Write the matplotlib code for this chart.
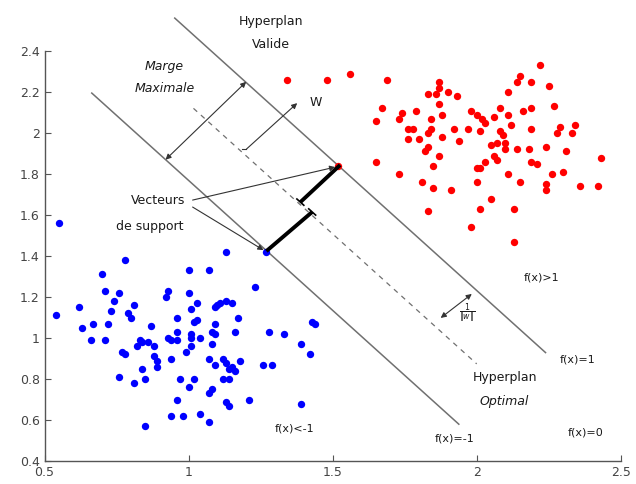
import matplotlib
matplotlib.use("Agg")
import matplotlib.pyplot as plt
import numpy as np

# ---- data ----
red_x = [1.34, 1.48, 1.56, 1.69, 1.67, 1.65, 1.74, 1.73, 1.79, 1.83, 1.87, 1.87, 1.86, 1.90, 1.93,
         1.87, 1.88, 1.84, 1.84, 1.83, 1.76, 1.78, 1.76, 1.80, 1.83, 1.82, 1.87, 1.88, 1.92, 1.94,
         1.97, 2.01, 1.98, 2.00, 2.02, 2.03, 2.06, 2.08, 2.11, 2.12, 2.08, 2.09, 2.05, 2.07, 2.10,
         2.10, 2.14, 2.15, 2.19, 2.22, 2.25, 2.11, 2.16, 2.19, 2.27, 2.19, 2.29, 2.28, 2.33, 2.34,
         2.14, 2.18, 2.24, 2.31, 2.06, 2.07, 2.03, 2.00, 2.01, 2.19, 2.21, 2.43, 1.65, 1.85, 1.73,
         1.81, 1.85, 1.91, 2.00, 2.05, 2.11, 2.15, 2.26, 2.30, 2.24, 2.24, 2.36, 2.42, 1.83, 2.01,
         2.13, 1.98, 2.13, 1.52]
red_y = [2.26, 2.26, 2.29, 2.26, 2.12, 2.06, 2.10, 2.07, 2.11, 2.19, 2.25, 2.22, 2.19, 2.20, 2.18,
         2.14, 2.09, 2.07, 2.02, 2.00, 2.02, 2.02, 1.97, 1.97, 1.93, 1.91, 1.89, 1.98, 2.02, 1.96,
         2.02, 2.01, 2.11, 2.09, 2.07, 2.05, 2.08, 2.12, 2.09, 2.04, 2.01, 1.99, 1.94, 1.95, 1.95,
         1.92, 2.25, 2.28, 2.25, 2.33, 2.23, 2.20, 2.11, 2.12, 2.13, 2.02, 2.03, 2.00, 2.00, 2.04,
         1.92, 1.92, 1.93, 1.91, 1.89, 1.87, 1.86, 1.83, 1.83, 1.86, 1.85, 1.88, 1.86, 1.84, 1.80,
         1.76, 1.73, 1.72, 1.76, 1.68, 1.80, 1.76, 1.80, 1.81, 1.75, 1.72, 1.74, 1.74, 1.62, 1.63,
         1.63, 1.54, 1.47, 1.84]

blue_x = [0.55, 0.54, 0.62, 0.63, 0.67, 0.66, 0.71, 0.70, 0.71, 0.78, 0.76, 0.74, 0.73, 0.72,
          0.79, 0.80, 0.81, 0.76, 0.77, 0.78, 0.81, 0.84, 0.85, 0.85, 0.83, 0.82, 0.84, 0.86,
          0.88, 0.87, 0.88, 0.89, 0.89, 0.93, 0.92, 0.96, 0.93, 0.94, 0.96, 0.96, 0.94, 0.99,
          0.97, 0.96, 0.94, 0.98, 1.00, 1.00, 1.01, 1.01, 1.01, 1.01, 1.03, 1.02, 1.03, 1.02,
          1.00, 1.04, 1.07, 1.09, 1.08, 1.09, 1.08, 1.07, 1.09, 1.08, 1.07, 1.04, 1.07, 1.09,
          1.10, 1.11, 1.13, 1.15, 1.13, 1.12, 1.13, 1.14, 1.16, 1.15, 1.12, 1.14, 1.13, 1.14,
          1.16, 1.17, 1.18, 1.21, 1.23, 1.26, 1.28, 1.29, 1.33, 1.39, 1.42, 1.39, 1.43, 1.44,
          1.27]
blue_y = [1.56, 1.11, 1.15, 1.05, 1.07, 0.99, 0.99, 1.31, 1.23, 1.38, 1.22, 1.18, 1.13, 1.07,
          1.12, 1.10, 1.16, 0.81, 0.93, 0.92, 0.78, 0.85, 0.80, 0.57, 0.99, 0.96, 0.98, 0.98,
          0.96, 1.06, 0.91, 0.89, 0.86, 1.23, 1.20, 1.10, 1.00, 0.99, 1.03, 0.99, 0.90, 0.93,
          0.80, 0.70, 0.62, 0.62, 1.33, 1.22, 1.02, 1.00, 0.96, 1.14, 1.17, 1.08, 1.09, 0.80,
          0.76, 1.00, 1.33, 1.07, 1.03, 1.02, 0.97, 0.90, 0.87, 0.75, 0.73, 0.63, 0.59, 1.15,
          1.16, 1.17, 1.18, 1.17, 1.42, 0.90, 0.88, 0.85, 0.84, 0.86, 0.80, 0.80, 0.69, 0.67,
          1.03, 1.10, 0.89, 0.70, 1.25, 0.87, 1.03, 0.87, 1.02, 0.97, 0.92, 0.68, 1.08, 1.07,
          1.42]

# hyperplanes: y = slope * x + intercept, drawn between x-limits
slope = -1.268
intercept_pos = 3.768   # f(x) = 1
intercept_zero = 3.41   # f(x) = 0 (dashed)
intercept_neg = 3.037   # f(x) = -1
xrange_pos = [0.952, 2.239]
xrange_zero = [1.017, 2.0]
xrange_neg = [0.664, 1.938]

# support-vector segments (to optimal hyperplane)
seg_red = ([1.388, 1.526], [1.663, 1.844])
seg_blue = ([1.270, 1.429], [1.424, 1.615])
tick_points = [(1.388, 1.663), (1.429, 1.615)]

fig = plt.figure(figsize=(6.36, 4.84), dpi=100)
ax = fig.add_axes([0.070, 0.0475, 0.906, 0.847])
ax.set_xlim(0.5, 2.5)
ax.set_ylim(0.4, 2.4)

linecol = '#707070'
def hline(xr, b, **kw):
    xs = np.array(xr)
    ax.plot(xs, slope * xs + b, clip_on=False, **kw)

hline(xrange_pos, intercept_pos, color=linecol, lw=1.1)
hline(xrange_neg, intercept_neg, color=linecol, lw=1.1)
hline(xrange_zero, intercept_zero, color=linecol, lw=0.9, ls=(0, (4, 4)))

ax.plot(red_x, red_y, 'o', color='red', ms=5.3, mec='none', clip_on=False, zorder=3)
ax.plot(blue_x, blue_y, 'o', color='blue', ms=5.3, mec='none', clip_on=False, zorder=3)

ax.plot(*seg_red, color='black', lw=2.8, solid_capstyle='butt', zorder=4)
ax.plot(*seg_blue, color='black', lw=2.8, solid_capstyle='butt', zorder=4)
# small end ticks along hyperplane direction
for (x0, y0) in tick_points:
    d = 0.012
    ax.plot([x0 - d, x0 + d], [y0 - slope * d, y0 + slope * d], color='black', lw=1.2, zorder=4)

acol = '#333333'
def arrow(p0, p1, style):
    ax.annotate('', xy=p1, xytext=p0, annotation_clip=False,
                arrowprops=dict(arrowstyle=style, color=acol, lw=0.8,
                                mutation_scale=8, shrinkA=0, shrinkB=0))

arrow((0.92, 1.87), (1.20, 2.25), '<|-|>')      # marge maximale
arrow((1.201, 1.922), (1.377, 2.146), '-|>')    # W
arrow((1.875, 1.098), (1.983, 1.215), '<|-|>')  # 1/||w||
arrow((1.014, 1.673), (1.509, 1.834), '-|>')    # vecteurs -> red
arrow((1.014, 1.639), (1.26, 1.429), '-|>')     # vecteurs -> blue
# small base tick of W
ax.plot([1.185, 1.201], [1.922, 1.922], color=acol, lw=0.8)

tc = '#1a1a1a'
def txt(x, y, s, fs=9, **kw):
    ax.text(x, y, s, ha='center', va='center', fontsize=fs, color=tc, clip_on=False, **kw)

txt(1.287, 2.546, 'Hyperplan')
txt(1.287, 2.43, 'Valide')
txt(0.917, 2.327, 'Marge', style='italic')
txt(0.917, 2.215, 'Maximale', style='italic')
txt(1.44, 2.15, 'W')
txt(0.893, 1.673, 'Vecteurs')
txt(0.865, 1.546, 'de support')
txt(2.225, 1.293, 'f(x)>1', fs=8)
txt(2.349, 0.893, 'f(x)=1', fs=8)
txt(2.097, 0.805, 'Hyperplan')
txt(2.097, 0.688, 'Optimal', style='italic')
txt(1.924, 0.512, 'f(x)=-1', fs=8)
txt(2.377, 0.537, 'f(x)=0', fs=8)
txt(1.367, 0.561, 'f(x)<-1', fs=8)
txt(1.965, 1.12, r'$\frac{1}{\|w\|}$', fs=8)

for s in ('top', 'right'):
    ax.spines[s].set_visible(False)
for s in ('left', 'bottom'):
    ax.spines[s].set_color('#555555')
    ax.spines[s].set_linewidth(1.0)
ax.set_xticks([0.5, 1, 1.5, 2, 2.5])
ax.set_xticklabels(['0.5', '1', '1.5', '2', '2.5'])
yt = [0.4, 0.6, 0.8, 1, 1.2, 1.4, 1.6, 1.8, 2, 2.2, 2.4]
ax.set_yticks(yt)
ax.set_yticklabels(['0.4', '0.6', '0.8', '1', '1.2', '1.4', '1.6', '1.8', '2', '2.2', '2.4'])
ax.tick_params(direction='in', length=4, color='#555555', labelcolor='#444444', labelsize=9)
ax.set_facecolor('none')

fig.savefig('out.png', dpi=100)
